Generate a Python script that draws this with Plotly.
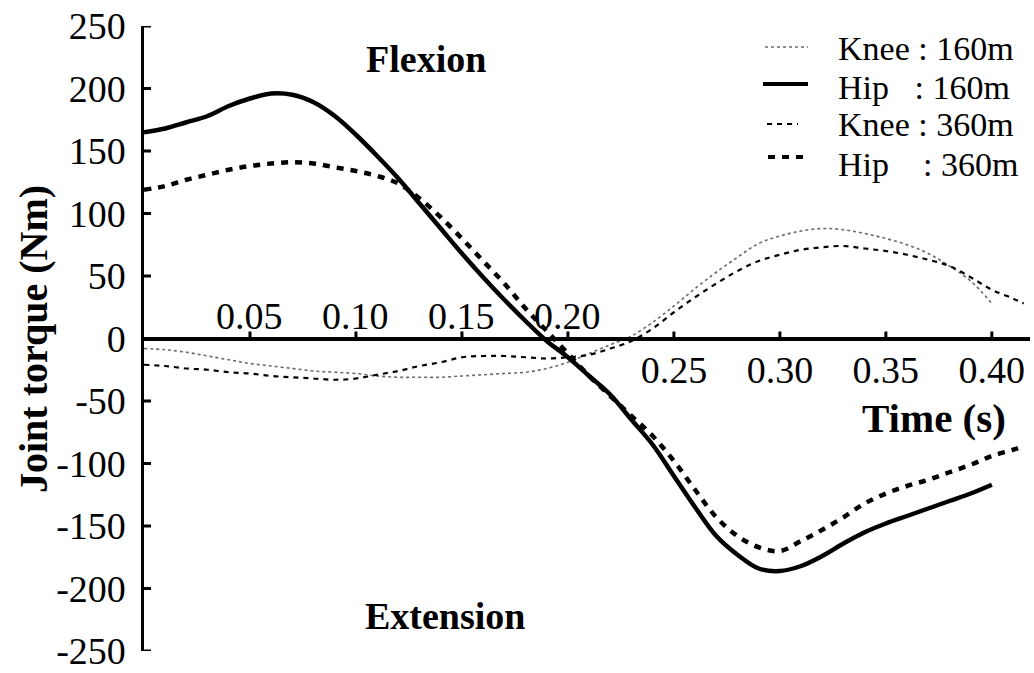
import plotly.graph_objects as go

# ---------------- data ----------------
t160 = [round(i * 0.01, 2) for i in range(41)]          # 0.00 .. 0.40 s
knee160 = [-8, -9, -11, -14, -17, -20, -22, -24, -26, -27, -28, -30, -31, -31, -31, -30,
           -29, -28, -27, -24, -19, -12, -5, 2, 13, 26, 40, 53, 65, 76, 82, 86, 88, 87,
           84, 80, 75, 68, 58, 46, 28]
hip160 = [165, 168, 173, 178, 186, 192, 196, 195, 189, 178, 163, 146, 128, 108, 88, 68,
          49, 31, 14, -2, -15, -30, -45, -65, -85, -110, -135, -158, -173, -184, -186,
          -182, -174, -164, -155, -148, -142, -136, -130, -124, -117]

t360 = [round(i * 0.01, 2) for i in range(42)] + [0.415]  # 0.00 .. 0.415 s
knee360 = [-21, -22, -24, -25, -27, -28, -30, -31, -32, -33, -32, -29, -26, -22, -19, -15,
           -14, -14, -15, -16, -15, -13, -8, -2, 8, 21, 33, 44, 54, 62, 67, 71, 73, 74,
           72, 70, 67, 63, 58, 49, 39, 32, 28]
hip360 = [119, 122, 127, 131, 135, 138, 140, 141, 140, 137, 134, 130, 124, 112, 97, 80,
          62, 44, 24, 6, -12, -30, -46, -62, -78, -98, -121, -143, -158, -167, -170,
          -162, -153, -143, -132, -124, -118, -113, -107, -101, -94, -89, -86]

y_ticks = [250, 200, 150, 100, 50, 0, -50, -100, -150, -200, -250]
y_tick_labels = ["250", "200", "150", "100", "50", "0", "-50", "-100", "-150", "-200", "-250"]
x_ticks_upper = [0.05, 0.10, 0.15, 0.20]
x_labels_upper = ["0.05", "0.10", "0.15", "0.20"]
x_ticks_lower = [0.25, 0.30, 0.35, 0.40]
x_labels_lower = ["0.25", "0.30", "0.35", "0.40"]

legend_labels = ["Knee : 160m", "Hip\u00a0\u00a0\u00a0: 160m", "Knee : 360m", "Hip\u00a0\u00a0\u00a0\u00a0: 360m"]

# ---------------- styles ----------------
FONT = "Liberation Serif, Times New Roman, serif"
W, H = 1034, 673
ML, MR, MT, MB = 144, 4, 26, 22
PW, PH = W - ML - MR, H - MT - MB
XR = [0, 0.418]
YR = [-250, 250]
TICK_PX = 7   # tick-mark length in pixels

styles = [
    dict(color="#6a6a6a", width=1.6, dash="dot"),      # knee 160
    dict(color="black", width=4.5, dash="solid"),      # hip 160
    dict(color="black", width=2.2, dash="5px,5px"),    # knee 360
    dict(color="black", width=4.5, dash="7px,7px"),    # hip 360
]

def px_x(px):
    return (px - ML) / PW

def px_y(py):
    return (H - MB - py) / PH

fig = go.Figure()
series = [(t160, knee160), (t160, hip160), (t360, knee360), (t360, hip360)]
for (tt, yy), st, name in zip(series, styles, legend_labels):
    fig.add_trace(go.Scatter(x=tt, y=yy, mode="lines", name=name, line=st,
                             line_shape="spline", showlegend=False, hoverinfo="skip"))

# ---------------- tick marks (pointing into the plot), built from the tick values ----------------
dx = TICK_PX / PW * (XR[1] - XR[0])
dy = TICK_PX / PH * (YR[1] - YR[0])
ytx, yty = [], []
for yv in y_ticks:
    ytx += [XR[0], XR[0] + dx, None]
    yty += [yv, yv, None]
xtx, xty = [], []
for xv in x_ticks_upper + x_ticks_lower:
    xtx += [xv, xv, None]
    xty += [0, dy, None]
fig.add_trace(go.Scatter(x=ytx, y=yty, mode="lines", line=dict(color="black", width=3),
                         showlegend=False, hoverinfo="skip", cliponaxis=False))
fig.add_trace(go.Scatter(x=xtx, y=xty, mode="lines", line=dict(color="black", width=3),
                         showlegend=False, hoverinfo="skip", cliponaxis=False))

# ---------------- manual legend ----------------
sample_rows = [(765, 808, 47), (763, 808, 84), (767, 798, 124), (768, 805, 157)]
text_rows = [48, 88, 125, 164]
for (x0, x1, ys), yt, st, lab in zip(sample_rows, text_rows, styles, legend_labels):
    fig.add_shape(type="line", xref="paper", yref="paper",
                  x0=px_x(x0), x1=px_x(x1), y0=px_y(ys), y1=px_y(ys),
                  line=dict(color=st["color"], width=st["width"] if st["width"] < 3 else 4,
                            dash=st["dash"]))
    fig.add_annotation(x=px_x(836), y=px_y(yt), xref="paper", yref="paper",
                       text=lab, showarrow=False, xanchor="left", yanchor="middle",
                       font=dict(family=FONT, size=34, color="black"))

# ---------------- text labels ----------------
def label(px, py, txt, size, angle=0):
    fig.add_annotation(x=px_x(px), y=px_y(py), xref="paper", yref="paper", text=txt,
                       showarrow=False, xanchor="center", yanchor="middle", textangle=angle,
                       font=dict(family=FONT, size=size, color="black"))

label(426, 59, "<b>Flexion</b>", 38)
label(445, 616, "<b>Extension</b>", 38)
label(934, 418, "<b>Time (s)</b>", 41)
label(33, 339, "<b>Joint torque (Nm)</b>", 40, -90)

tickfont = dict(family=FONT, size=38, color="black")

# upper x tick labels (above the time axis)
for xv, xl in zip(x_ticks_upper, x_labels_upper):
    fig.add_annotation(x=xv, y=px_y(316), xref="x", yref="paper", text=xl, showarrow=False,
                       xanchor="center", yanchor="middle", font=tickfont)

fig.update_layout(
    width=W, height=H,
    margin=dict(l=ML, r=MR, t=MT, b=MB, autoexpand=False),
    paper_bgcolor="white", plot_bgcolor="white",
    showlegend=False,
    xaxis=dict(range=XR, anchor="free", position=0.5, showline=True, linewidth=3.5,
               linecolor="black", ticks="",
               tickvals=x_ticks_lower, ticktext=x_labels_lower, tickfont=tickfont,
               showgrid=False, zeroline=False, ticklabelstandoff=-3,
               ticklabeloverflow="allow"),
    yaxis=dict(range=YR, showline=True, linewidth=3, linecolor="black",
               ticks="", tickvals=y_ticks, ticktext=[s + "\u2009" for s in y_tick_labels],
               tickfont=tickfont, showgrid=False, zeroline=False,
               ticklabeloverflow="allow"),
)

fig.write_html("out.html", config={"displayModeBar": False},
               post_script="document.body.style.margin='0';")
